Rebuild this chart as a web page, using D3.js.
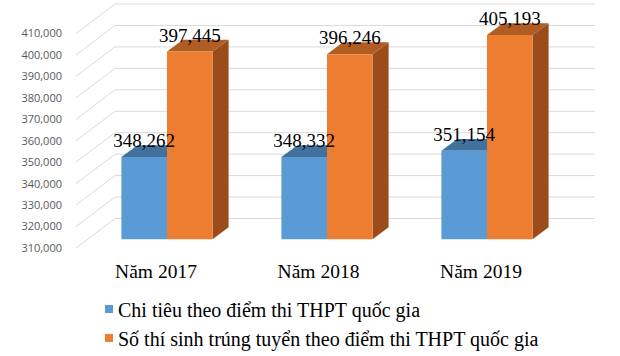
<!DOCTYPE html>
<html><head><meta charset="utf-8">
<script src="https://cdn.jsdelivr.net/npm/d3@7"></script>
<style>body{margin:0;background:#fff}svg{display:block}</style>
</head><body>
<script>
const categories = ["Năm 2017", "Năm 2018", "Năm 2019"];
const seriesNames = ["Chi tiêu theo điểm thi THPT quốc gia", "Số thí sinh trúng tuyển theo điểm thi THPT quốc gia"];
const chiTieu = [348262, 348332, 351154];
const trungTuyen = [397445, 396246, 405193];
const yTicks = [310000, 320000, 330000, 340000, 350000, 360000, 370000, 380000, 390000, 400000, 410000];
const frontColors = ["#5B9BD5", "#ED7D31"];
const topColors = ["#41719C", "#B05C22"];
const sideColors = ["#3E6A94", "#9A4D1A"];

const W = 620, H = 356;
const svg = d3.select("body").append("svg").attr("width", W).attr("height", H);

// 3D projection parameters
const DX = 40, DY = -29.5;      // full depth offset
const Z0 = 0.3, Z1 = 0.7;       // bar depth span
const y = d3.scaleLinear().domain([310000, 410000]).range([248, 33.5]);
const x = d3.scaleBand().domain(categories).range([75, 555]).paddingInner(0.43).paddingOuter(0.215);
const xs = d3.scaleBand().domain([0, 1]).range([0, x.bandwidth()]);
const xLabel = d3.scalePoint().domain(categories).range([156, 481]);

const P = (px, v, z) => [px + z * DX, y(v) + z * DY];

// gridlines: back wall horizontals and left wall diagonals
const grid = svg.append("g").attr("stroke", "#D9D9D9").attr("stroke-width", 1).attr("fill", "none");
yTicks.forEach(v => {
  const a = P(75, v, 0), b = P(75, v, 1), c = P(555, v, 1);
  grid.append("line").attr("x1", b[0]).attr("y1", b[1]).attr("x2", c[0]).attr("y2", c[1]);
  grid.append("line").attr("x1", a[0] + 1).attr("y1", a[1]).attr("x2", b[0]).attr("y2", b[1]);
});

// y axis labels
svg.append("g").selectAll("text").data(yTicks).join("text")
  .attr("x", 62).attr("y", d => y(d)).attr("dy", "0.35em")
  .attr("text-anchor", "end").attr("fill", "#595959")
  .style("font-family", "'Open Sans', sans-serif").style("font-size", "11px")
  .text(d3.format(","));

// bars
const data = [chiTieu, trungTuyen];
const fmt = d3.format(",");
const bars = svg.append("g");
categories.forEach((c, i) => {
  data.forEach((vals, j) => {
    const v = vals[i];
    const xl = x(c) + xs(j), xr = xl + xs.bandwidth();
    const base = 310000;
    const poly = pts => pts.map(p => p.join(",")).join(" ");
    bars.append("polygon").attr("fill", sideColors[j]).attr("points", poly([
      P(xr, base, Z0), P(xr, v, Z0), P(xr, v, Z1), P(xr, base, Z1)]));
    bars.append("polygon").attr("fill", topColors[j]).attr("points", poly([
      P(xl, v, Z0), P(xr, v, Z0), P(xr, v, Z1), P(xl, v, Z1)]));
    bars.append("polygon").attr("fill", frontColors[j]).attr("points", poly([
      P(xl, base, Z0), P(xr, base, Z0), P(xr, v, Z0), P(xl, v, Z0)]));
  });
});

// data labels
const labels = svg.append("g").style("font-family", "'Liberation Serif', 'Times New Roman', serif")
  .style("font-size", "19px").attr("fill", "#000").attr("text-anchor", "middle");
categories.forEach((c, i) => {
  data.forEach((vals, j) => {
    const v = vals[i];
    const xl = x(c) + xs(j);
    const p = P(xl + xs.bandwidth() / 2, v, Z0);
    labels.append("text").attr("x", p[0]).attr("y", p[1] - 10).text(fmt(v));
  });
});

// category labels
svg.append("g").selectAll("text").data(categories).join("text")
  .attr("x", d => xLabel(d)).attr("y", 278).attr("text-anchor", "middle")
  .style("font-family", "'Liberation Serif', 'Times New Roman', serif").style("font-size", "19.5px")
  .attr("fill", "#000").text(d => d);

// legend
const lg = svg.append("g");
const legY = [317, 346];
seriesNames.forEach((s, j) => {
  lg.append("rect").attr("x", 105).attr("y", legY[j] - 12).attr("width", 8).attr("height", 8).attr("fill", frontColors[j]);
  lg.append("text").attr("x", 118).attr("y", legY[j])
    .style("font-family", "'Liberation Serif', 'Times New Roman', serif").style("font-size", "20px")
    .attr("fill", "#000").text(s);
});
</script>
</body></html>
